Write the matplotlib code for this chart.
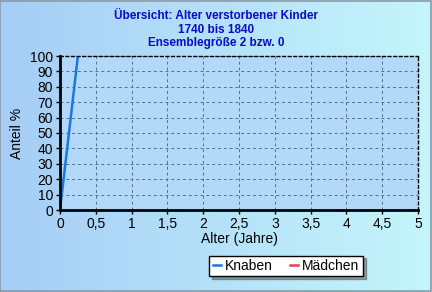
import numpy as np
import matplotlib.pyplot as plt
from matplotlib.colors import LinearSegmentedColormap
from matplotlib.patches import Rectangle

plt.rcParams['font.family'] = ['Liberation Sans', 'DejaVu Sans']

# Daten
alter_knaben = [0, 0.25]
anteil_knaben = [0, 100]
alter_maedchen = []
anteil_maedchen = []
xticks = [0, 0.5, 1, 1.5, 2, 2.5, 3, 3.5, 4, 4.5, 5]
xlabels = ['0', '0,5', '1', '1,5', '2', '2,5', '3', '3,5', '4', '4,5', '5']
yticks = list(range(0, 101, 10))

fig = plt.figure(figsize=(4.32, 2.92), dpi=100)

# Hintergrund mit Farbverlauf
bg = fig.add_axes([0, 0, 1, 1], zorder=-10)
cmap = LinearSegmentedColormap.from_list('bg', ['#a6cdf6', '#c4f6fb'])
grad = np.linspace(0, 1, 256).reshape(1, -1)
bg.imshow(grad, aspect='auto', cmap=cmap, extent=[0, 1, 0, 1])
bg.set_xlim(0, 1)
bg.set_ylim(0, 1)
bg.add_patch(Rectangle((0.001, 0.002), 0.996, 0.996, fill=False, edgecolor='#8a9aa8', lw=1.2))
bg.axis('off')

ax = fig.add_axes([60/432, 1-210/292, 358/432, 154/292])
ax.set_facecolor('#b2d9fa')
ax.plot(alter_knaben, anteil_knaben, color='#1878e0', lw=1.8, label='Knaben')
ax.plot(alter_maedchen, anteil_maedchen, color='#e0405a', lw=1.8, label='Mädchen')

ax.set_xlim(0, 5)
ax.set_ylim(0, 100)
ax.set_xticks(xticks)
ax.set_xticklabels(xlabels)
ax.set_yticks(yticks)
ax.grid(True, color='#5a6e86', ls=(0, (3, 3)), lw=0.7)
ax.tick_params(labelsize=10, length=3, width=1, pad=2, color='black')
for s in ['left', 'bottom']:
    ax.spines[s].set_linewidth(2)
for s in ['top', 'right']:
    ax.spines[s].set_linestyle((0, (2, 2)))
    ax.spines[s].set_linewidth(1)

ax.set_xlabel('Alter (Jahre)', fontsize=10, labelpad=1)
ax.set_ylabel('Anteil %', fontsize=10, labelpad=4)

fig.text(0.5, 1-16/292, 'Übersicht: Alter verstorbener Kinder', ha='center', va='center',
         color='#0a0ac8', fontsize=8.5, fontweight='bold')
fig.text(0.5, 1-30/292, '1740 bis 1840', ha='center', va='center',
         color='#0a0ac8', fontsize=8.5, fontweight='bold')
fig.text(0.5, 1-43/292, 'Ensemblegröße 2 bzw. 0', ha='center', va='center',
         color='#0a0ac8', fontsize=8.5, fontweight='bold')

leg = ax.legend(loc='center', bbox_to_anchor=(286/432, 1-266/292), bbox_transform=fig.transFigure,
                ncol=2, fontsize=10, frameon=True, fancybox=False, shadow=True,
                handlelength=0.6, handletextpad=0.3, columnspacing=1.2, borderpad=0.25,
                edgecolor='black')
leg.get_frame().set_linewidth(1)

fig.savefig('out.png', dpi=100)
